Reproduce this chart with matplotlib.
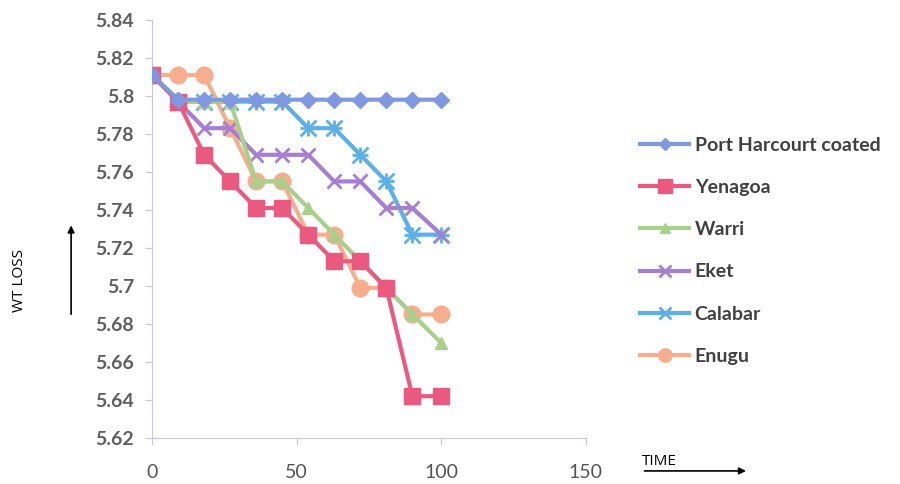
import numpy as np
import matplotlib.pyplot as plt
from matplotlib.lines import Line2D

# time points and weight of each sample
time = [0, 9, 18, 27, 36, 45, 54, 63, 72, 81, 90, 100]
port_harcourt = [5.811, 5.798, 5.798, 5.798, 5.798, 5.798, 5.798, 5.798, 5.798, 5.798, 5.798, 5.798]
yenagoa = [5.811, 5.797, 5.769, 5.755, 5.741, 5.741, 5.727, 5.713, 5.713, 5.699, 5.642, 5.642]
warri = [5.811, 5.797, 5.797, 5.797, 5.755, 5.755, 5.741, 5.727, 5.713, 5.699, 5.685, 5.670]
eket = [5.811, 5.797, 5.783, 5.783, 5.769, 5.769, 5.769, 5.755, 5.755, 5.741, 5.741, 5.727]
calabar = [5.811, 5.797, 5.797, 5.797, 5.797, 5.797, 5.783, 5.783, 5.769, 5.755, 5.727, 5.727]
enugu = [5.811, 5.811, 5.811, 5.783, 5.755, 5.755, 5.727, 5.727, 5.699, 5.699, 5.685, 5.685]

names = ["Port Harcourt coated", "Yenagoa", "Warri", "Eket", "Calabar", "Enugu"]
yticks = [5.62, 5.64, 5.66, 5.68, 5.7, 5.72, 5.74, 5.76, 5.78, 5.8, 5.82, 5.84]
xticks = [0, 50, 100, 150]

plt.rcParams['font.family'] = ['Lato', 'DejaVu Sans']

fig = plt.figure(figsize=(9, 4.84), dpi=100)
ax = fig.add_axes([0.169, 0.095, 0.482, 0.864])

series = [port_harcourt, yenagoa, warri, eket, calabar, enugu]
colors = ["#7f98e0", "#ea5a80", "#a8d08c", "#a67fd2", "#5cb0ea", "#f6ae8e"]
markers = ["D", "s", "^", "x", "x", "o"]
sizes = [8, 12, 9, 10, 11, 12]

handles = []
for i, ys in enumerate(series):
    mew = 2 if markers[i] == "x" else 1
    ax.plot(time, ys, color=colors[i], lw=3, marker=markers[i], ms=sizes[i],
            mew=mew, mec=colors[i], mfc=colors[i], zorder=3 + (5 - i) * 0.1)
    if i == 4:
        # asterisk look for Calabar
        ax.plot(time, ys, ls="none", marker="+", ms=sizes[i], mew=2,
                color=colors[i], zorder=3)
    handles.append(Line2D([], [], color=colors[i], lw=3, marker=markers[i],
                          ms=sizes[i] * 0.8, mew=mew, mfc=colors[i], mec=colors[i]))

ax.set_xlim(0, 150)
ax.set_ylim(5.62, 5.84)
ax.set_yticks(yticks)
ax.set_yticklabels([f"{v:g}" for v in yticks], fontsize=14, fontweight="bold", color="#5f5f5f")
ax.set_xticks(xticks)
ax.set_xticklabels([str(v) for v in xticks], fontsize=14, color="#555555")
ax.tick_params(axis="y", length=5, color="#c8c8d8", pad=8)
ax.tick_params(axis="x", length=5, color="#c8c8d8", pad=14)
for s in ["top", "right"]:
    ax.spines[s].set_visible(False)
for s in ["left", "bottom"]:
    ax.spines[s].set_color("#c8c8d8")

leg = fig.legend(handles, names, loc="upper left", bbox_to_anchor=(0.692, 0.754),
                 frameon=False, fontsize=14, handlelength=2.5, labelspacing=1.3,
                 handletextpad=0.3)
for t in leg.get_texts():
    t.set_fontweight("bold")
    t.set_color("#404040")

# axis labels with arrows
fig.text(0.022, 0.42, "WT LOSS", rotation=90, fontsize=11, va="center", ha="center",
         family=["Open Sans", "DejaVu Sans"])
fig.add_artist(plt.Annotation("", xy=(0.079, 0.54), xytext=(0.079, 0.345),
                              xycoords="figure fraction",
                              arrowprops=dict(arrowstyle="-|>", color="black", lw=1.2)))
fig.text(0.713, 0.031, "TIME", fontsize=11, ha="left", va="bottom",
         family=["Open Sans", "DejaVu Sans"])
fig.add_artist(plt.Annotation("", xy=(0.832, 0.027), xytext=(0.713, 0.027),
                              xycoords="figure fraction",
                              arrowprops=dict(arrowstyle="-|>", color="black", lw=1.2)))

fig.savefig("out.png", dpi=100)
